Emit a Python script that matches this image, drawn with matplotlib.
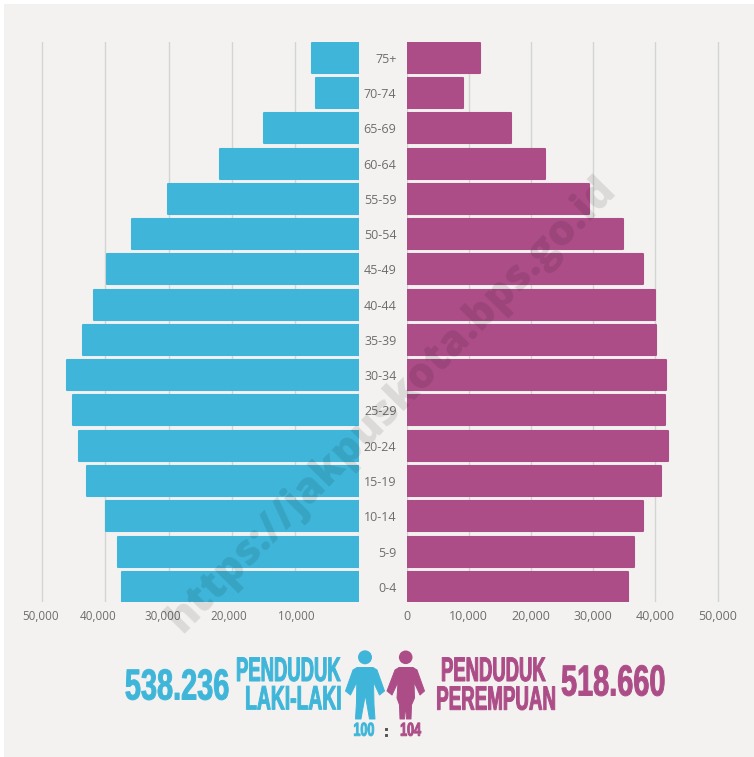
import matplotlib
matplotlib.use('Agg')
import matplotlib.pyplot as plt
from matplotlib.patches import Circle, Polygon, Rectangle
from matplotlib.patheffects import AbstractPathEffect
from matplotlib.transforms import Affine2D

W, H = 754, 757
BLUE = '#3fb6d9'
PINK = '#ad4d88'
BG = '#f3f2f0'
TXT = '#6d6d6d'
GRID = '#d4d4d2'
EDGE = 160  # setengah garis tepi batang, dalam satuan data

groups = ['75+', '70-74', '65-69', '60-64', '55-59', '50-54', '45-49', '40-44',
          '35-39', '30-34', '25-29', '20-24', '15-19', '10-14', '5-9', '0-4']
male = [7550, 6950, 15090, 22100, 30300, 35900, 39900, 41900,
        43700, 46200, 45300, 44300, 43000, 40000, 38200, 37500]
female = [11980, 9240, 16880, 22350, 29500, 34970, 38100, 40100,
          40200, 41800, 41640, 42120, 41000, 38180, 36800, 35700]
ticks = [0, 10000, 20000, 30000, 40000, 50000]
left_labels = ['50,000', '40,000', '30,000', '20,000', '10,000']
left_label_x = [40.5, 98, 163, 229, 296]

plt.rcParams['font.family'] = ['Open Sans', 'DejaVu Sans']

fig = plt.figure(figsize=(W / 100, H / 100), dpi=100, facecolor='white')


def make_axes(x0, x1, y0, y1):
    return fig.add_axes([x0 / W, 1 - y1 / H, (x1 - x0) / W, (y1 - y0) / H])


class Tall(AbstractPathEffect):
    # huruf ditarik ke atas supaya mirip font condensed
    def __init__(self, y_px, sy, stroke=0.7):
        super().__init__()
        self.y0 = H - y_px
        self.sy = sy
        self.stroke = stroke

    def draw_path(self, renderer, gc, tpath, affine, rgbFace=None):
        t = affine + Affine2D().translate(0, -self.y0).scale(1, self.sy).translate(0, self.y0)
        g = renderer.new_gc()
        g.copy_properties(gc)
        g.set_linewidth(self.stroke)
        g.set_foreground(rgbFace)
        renderer.draw_path(g, tpath, t, rgbFace)
        g.restore()


# latar dan teks bebas, koordinat piksel
bg = make_axes(0, W, 0, H)
bg.set_xlim(0, W)
bg.set_ylim(H, 0)
bg.axis('off')
bg.add_patch(Rectangle((4, 4), W - 4, H - 4, color=BG, lw=0))

ax_l = make_axes(38, 358.5, 42, 602)
ax_r = make_axes(406.5, 722, 42, 602)
for ax in (ax_l, ax_r):
    ax.patch.set_alpha(0)
    for s in ax.spines.values():
        s.set_visible(False)
    ax.set_ylim(15.43, -0.447)
    ax.set_axisbelow(True)
    ax.grid(axis='x', color=GRID, lw=1)
    ax.tick_params(length=0)

y = list(range(len(groups)))
ax_l.barh(y, [v - EDGE for v in male], height=0.85, color=BLUE, edgecolor=BLUE, linewidth=1.5, joinstyle='round')
ax_r.barh(y, [v - EDGE for v in female], height=0.85, color=PINK, edgecolor=PINK, linewidth=1.5, joinstyle='round')

ax_l.set_xlim(50630, 0)
ax_l.set_xticks(ticks)
ax_l.set_xticklabels([])
ax_l.set_yticks([])

ax_r.set_xlim(0, 50720)
ax_r.set_xticks(ticks)
ax_r.set_xticklabels([f'{t:,}' for t in ticks], fontsize=9, color=TXT)
ax_r.tick_params(axis='x', pad=6)
ax_r.set_yticks(y)
ax_r.set_yticklabels(groups, fontsize=9, color=TXT)
ax_r.tick_params(axis='y', pad=7.2)

for lab, lx in zip(left_labels, left_label_x):
    bg.text(lx, 616.5, lab, fontsize=8.4, color=TXT, ha='center', va='center')

# ikon orang, titik
man = [(357, 667.5), (373, 667.5), (377, 670), (384.5, 691), (379.5, 695), (373.5, 682), (374, 705), (375, 719),
       (369.5, 719), (365.3, 695), (361, 719), (355.5, 719), (356.5, 702), (356.8, 682),
       (350.5, 695), (345.5, 691), (353, 670)]
woman = [(399, 667.5), (413, 667.5), (417, 670), (424.5, 691), (420, 695), (414, 682), (414.5, 698), (411.5, 705),
         (411, 719), (406.5, 719), (405.5, 704), (404.5, 719), (400, 719), (399.5, 705),
         (397, 698), (398, 682), (392, 695), (387, 691), (395, 670)]
bg.add_patch(Circle((365, 657.3), 7, color=BLUE, lw=0))
bg.add_patch(Circle((405.7, 657.3), 6.8, color=PINK, lw=0))
bg.add_patch(Polygon(man, fc=BLUE, ec=BLUE, lw=0.7, joinstyle='round'))
bg.add_patch(Polygon(woman, fc=PINK, ec=PINK, lw=0.7, joinstyle='round'))


def tall_text(x, yp, s, size, sy, col, ha):
    bg.text(x, yp, s, fontsize=size, color=col, ha=ha, va='center_baseline', family='Liberation Sans',
            weight='bold', path_effects=[Tall(yp, sy)])


tall_text(229, 683, '538.236', 20.8, 1.5, BLUE, 'right')
tall_text(561, 679, '518.660', 20.8, 1.5, PINK, 'left')
tall_text(341, 669, 'PENDUDUK', 13.3, 1.85, BLUE, 'right')
tall_text(341, 698, 'LAKI-LAKI', 13.9, 1.75, BLUE, 'right')
tall_text(493.5, 669, 'PENDUDUK', 13.3, 1.85, PINK, 'center')
tall_text(496, 698, 'PEREMPUAN', 13.5, 1.8, PINK, 'center')
tall_text(364, 729, '100', 9, 1.5, BLUE, 'center')
tall_text(410.7, 729, '104', 9, 1.5, PINK, 'center')
tall_text(385.7, 730, ':', 9, 1.3, '#555555', 'center')

# watermark di atas batang
wm = fig.add_axes([0, 0, 1, 1], zorder=5)
wm.set_xlim(0, W)
wm.set_ylim(H, 0)
wm.axis('off')
wm.text(392, 405, 'https://jakpuskota.bps.go.id', fontsize=30.5, weight=800, color='black',
        alpha=0.1, rotation=45.5, rotation_mode='anchor', ha='center', va='center')

fig.savefig('out.png', dpi=100, facecolor='white')
